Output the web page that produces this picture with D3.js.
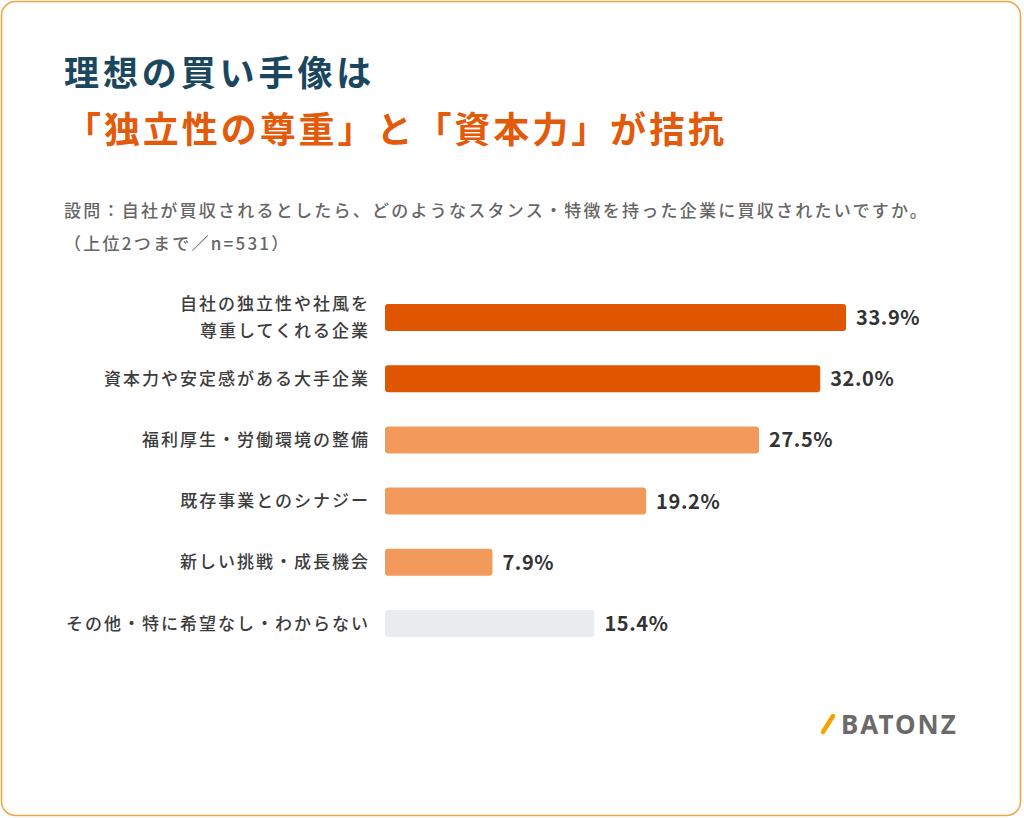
<!DOCTYPE html>
<html lang="ja">
<head>
<meta charset="utf-8">
<script src="https://cdn.jsdelivr.net/npm/d3@7"></script>
<style>
    html, body { margin: 0; padding: 0; background: #ffffff; }
    svg {
        display: block;
        font-family: "Noto Sans CJK JP", "Noto Sans", sans-serif;
        text-spacing-trim: space-all;
    }
</style>
</head>
<body>
<svg id="chart" width="1024" height="818"></svg>
<script>
const titleLines = ["理想の買い手像は", "「独立性の尊重」と「資本力」が拮抗"];

const questionLines = [
    "設問：自社が買収されるとしたら、どのようなスタンス・特徴を持った企業に買収されたいですか。",
    "（上位2つまで／n=531）"
];

const categories = [
    "自社の独立性や社風を\n尊重してくれる企業",
    "資本力や安定感がある大手企業",
    "福利厚生・労働環境の整備",
    "既存事業とのシナジー",
    "新しい挑戦・成長機会",
    "その他・特に希望なし・わからない"
];

const shares = [33.9, 32.0, 27.5, 19.2, 7.9, 15.4];

const otherCategory = "その他・特に希望なし・わからない";

const brandName = "BATONZ";

const paint = {
    top: "#e05500",
    rest: "#f29a5c",
    other: "#e9edf0",
    titleDark: "#1a475e",
    titleOrange: "#e35a0a",
    question: "#666666",
    label: "#3c3c3c",
    value: "#333333",
    frame: "#f0a445",
    brand: "#6a6a6a",
    slash: "#f5a300"
};

const rows = categories.map((category, i) => ({
    category,
    share: shares[i],
    lines: category.split("\n")
}));

// the two largest answers get the strong orange, "other" stays grey
const topTwo = rows
    .filter(row => row.category !== otherCategory)
    .sort((a, b) => b.share - a.share)
    .slice(0, 2)
    .map(row => row.category);

function barColor(row) {
    if (row.category === otherCategory) return paint.other;
    return topTwo.includes(row.category) ? paint.top : paint.rest;
}

const svg = d3.select("#chart");

function drawFrame() {
    svg.append("rect")
        .attr("x", 1.5)
        .attr("y", 1.5)
        .attr("width", 1019)
        .attr("height", 814)
        .attr("rx", 14)
        .attr("fill", "#ffffff")
        .attr("stroke", paint.frame)
        .attr("stroke-width", 1.5);
}

function drawHeading() {
    svg.append("text")
        .attr("x", 64)
        .attr("y", 86)
        .attr("fill", paint.titleDark)
        .attr("font-size", 35)
        .attr("font-weight", 700)
        .attr("letter-spacing", 3.9)
        .text(titleLines[0]);

    // brackets get squeezed by the browser, so pin the line width instead
    svg.append("text")
        .attr("x", 65)
        .attr("y", 143)
        .attr("fill", paint.titleOrange)
        .attr("font-size", 36)
        .attr("font-weight", 700)
        .attr("textLength", 659)
        .attr("lengthAdjust", "spacing")
        .text(titleLines[1]);

    svg.selectAll(".question")
        .data(questionLines)
        .join("text")
        .attr("class", "question")
        .attr("x", 64)
        .attr("y", (d, i) => 217 + i * 33)
        .attr("fill", paint.question)
        .attr("font-size", 17)
        .attr("font-weight", 500)
        .attr("letter-spacing", 2.25)
        .text(d => d);
}

function drawBars() {
    const x = d3.scaleLinear()
        .domain([0, 50])
        .range([385, 1065]);

    const y = d3.scaleBand()
        .domain(categories)
        .range([304, 637])
        .paddingInner(0.559)
        .paddingOuter(0);

    svg.append("g")
        .selectAll("rect")
        .data(rows)
        .join("rect")
        .attr("x", x(0))
        .attr("y", d => y(d.category))
        .attr("width", d => x(d.share) - x(0))
        .attr("height", y.bandwidth())
        .attr("rx", 3)
        .attr("fill", barColor);

    // category names, right aligned against the bar start
    const labels = svg.append("g")
        .selectAll("text")
        .data(rows)
        .join("text")
        .attr("text-anchor", "end")
        .attr("fill", paint.label)
        .attr("font-size", 17)
        .attr("font-weight", 500)
        .attr("letter-spacing", 2);

    labels.selectAll("tspan")
        .data(d => d.lines.map((line, i) => ({ line, i, n: d.lines.length, row: d })))
        .join("tspan")
        .attr("x", 370)
        .attr("y", d => y(d.row.category) + y.bandwidth() / 2 + (d.i - (d.n - 1) / 2) * 27 + 6)
        .text(d => d.line);

    svg.append("g")
        .selectAll("text")
        .data(rows)
        .join("text")
        .attr("x", d => x(d.share) + 10)
        .attr("y", d => y(d.category) + y.bandwidth() / 2 + 7.5)
        .attr("fill", paint.value)
        .attr("font-size", 20)
        .attr("font-weight", 700)
        .attr("letter-spacing", 0.6)
        .text(d => `${d.share.toFixed(1)}%`);
}

function drawBrand() {
    svg.append("line")
        .attr("x1", 823)
        .attr("y1", 732)
        .attr("x2", 833)
        .attr("y2", 716)
        .attr("stroke", paint.slash)
        .attr("stroke-width", 4.5)
        .attr("stroke-linecap", "round");

    svg.append("text")
        .attr("x", 841)
        .attr("y", 734)
        .attr("fill", paint.brand)
        .attr("font-family", "'Noto Sans', sans-serif")
        .attr("font-size", 26)
        .attr("font-weight", 700)
        .attr("letter-spacing", 2)
        .text(brandName);
}

drawFrame();
drawHeading();
drawBars();
drawBrand();
</script>
</body>
</html>
